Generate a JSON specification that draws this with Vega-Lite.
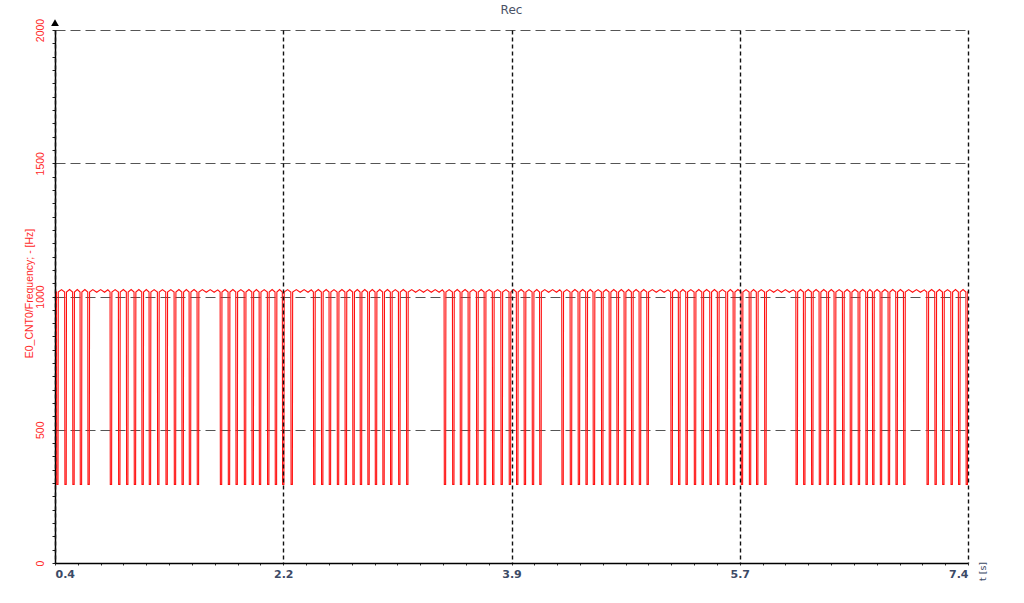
{
  "$schema": "https://vega.github.io/schema/vega-lite/v6.json",
  "width": 913,
  "height": 533,
  "autosize": {"type": "none"},
  "padding": {"left": 55, "top": 30, "right": 56, "bottom": 40},
  "background": "white",
  "title": {"text": "Rec", "fontSize": 12, "font": "DejaVu Sans", "fontWeight": "normal", "color": "#4a5266", "anchor": "middle", "offset": 1},
  "config": {"view": {"stroke": null}},
  "resolve": {"axis": {"x": "independent", "y": "independent"}},
  "layer": [
    {
      "data": {
        "values": "t,f\n0.4,1021\n0.411,1017\n0.413,295\n0.423,295\n0.425,1017\n0.45,1026\n0.474,1017\n0.476,295\n0.486,295\n0.488,1017\n0.512,1026\n0.535,1017\n0.537,295\n0.547,295\n0.549,1017\n0.571,1026\n0.592,1017\n0.594,295\n0.604,295\n0.606,1017\n0.629,1026\n0.651,1017\n0.653,295\n0.663,295\n0.665,1017\n0.69,1026\n0.72,1016\n0.75,1026\n0.78,1016\n0.805,1025\n0.822,1017\n0.824,295\n0.834,295\n0.836,1017\n0.861,1026\n0.886,1017\n0.888,295\n0.898,295\n0.9,1017\n0.924,1026\n0.947,1017\n0.949,295\n0.959,295\n0.961,1017\n0.984,1026\n1.006,1017\n1.008,295\n1.018,295\n1.02,1017\n1.043,1026\n1.065,1017\n1.067,295\n1.077,295\n1.079,1017\n1.1,1026\n1.121,1017\n1.123,295\n1.133,295\n1.135,1017\n1.16,1026\n1.185,1017\n1.187,295\n1.197,295\n1.199,1017\n1.224,1026\n1.249,1017\n1.251,295\n1.261,295\n1.263,1017\n1.288,1026\n1.313,1017\n1.315,295\n1.325,295\n1.327,1017\n1.35,1026\n1.372,1017\n1.374,295\n1.384,295\n1.386,1017\n1.407,1026\n1.428,1017\n1.43,295\n1.44,295\n1.442,1017\n1.466,1026\n1.489,1017\n1.491,295\n1.501,295\n1.503,1017\n1.53,1026\n1.56,1016\n1.59,1026\n1.62,1016\n1.648,1025\n1.666,1017\n1.668,295\n1.678,295\n1.68,1017\n1.704,1026\n1.727,1017\n1.729,295\n1.739,295\n1.741,1017\n1.764,1026\n1.786,1017\n1.788,295\n1.798,295\n1.8,1017\n1.825,1026\n1.85,1017\n1.852,295\n1.862,295\n1.864,1017\n1.887,1026\n1.909,1017\n1.911,295\n1.921,295\n1.923,1017\n1.944,1026\n1.965,1017\n1.967,295\n1.977,295\n1.979,1017\n2.004,1026\n2.028,1017\n2.03,295\n2.04,295\n2.042,1017\n2.065,1026\n2.087,1017\n2.089,295\n2.099,295\n2.101,1017\n2.122,1026\n2.143,1017\n2.145,295\n2.155,295\n2.157,1017\n2.183,1026\n2.208,1017\n2.21,295\n2.22,295\n2.222,1017\n2.25,1026\n2.28,1016\n2.31,1026\n2.34,1016\n2.365,1025\n2.381,1017\n2.383,295\n2.393,295\n2.395,1017\n2.419,1026\n2.442,1017\n2.444,295\n2.454,295\n2.456,1017\n2.479,1026\n2.501,1017\n2.503,295\n2.513,295\n2.515,1017\n2.539,1026\n2.563,1017\n2.565,295\n2.575,295\n2.577,1017\n2.6,1026\n2.623,1017\n2.625,295\n2.635,295\n2.637,1017\n2.66,1026\n2.682,1017\n2.684,295\n2.694,295\n2.696,1017\n2.718,1026\n2.739,1017\n2.741,295\n2.751,295\n2.753,1017\n2.775,1026\n2.797,1017\n2.799,295\n2.809,295\n2.811,1017\n2.833,1026\n2.854,1017\n2.856,295\n2.866,295\n2.868,1017\n2.89,1026\n2.912,1017\n2.914,295\n2.924,295\n2.926,1017\n2.949,1026\n2.971,1017\n2.973,295\n2.983,295\n2.985,1017\n3.009,1026\n3.033,1017\n3.035,295\n3.045,295\n3.047,1017\n3.07,1026\n3.094,1017\n3.096,295\n3.106,295\n3.108,1017\n3.135,1026\n3.165,1016\n3.195,1026\n3.225,1016\n3.255,1026\n3.285,1016\n3.315,1026\n3.345,1016\n3.37,1025\n3.383,1017\n3.385,295\n3.395,295\n3.397,1017\n3.422,1026\n3.447,1017\n3.449,295\n3.459,295\n3.461,1017\n3.484,1026\n3.506,1017\n3.508,295\n3.518,295\n3.52,1017\n3.544,1026\n3.567,1017\n3.569,295\n3.579,295\n3.581,1017\n3.606,1026\n3.631,1017\n3.633,295\n3.643,295\n3.645,1017\n3.668,1026\n3.69,1017\n3.692,295\n3.702,295\n3.704,1017\n3.729,1026\n3.753,1017\n3.755,295\n3.765,295\n3.767,1017\n3.793,1026\n3.818,1017\n3.82,295\n3.83,295\n3.832,1017\n3.857,1026\n3.881,1017\n3.883,295\n3.893,295\n3.895,1017\n3.916,1026\n3.937,1017\n3.939,295\n3.949,295\n3.951,1017\n3.974,1026\n3.996,1017\n3.998,295\n4.008,295\n4.01,1017\n4.034,1026\n4.058,1017\n4.06,295\n4.07,295\n4.072,1017\n4.094,1026\n4.115,1017\n4.117,295\n4.127,295\n4.129,1017\n4.155,1026\n4.185,1016\n4.215,1026\n4.245,1016\n4.27,1025\n4.285,1017\n4.287,295\n4.297,295\n4.299,1017\n4.324,1026\n4.349,1017\n4.351,295\n4.361,295\n4.363,1017\n4.386,1026\n4.41,1017\n4.412,295\n4.422,295\n4.424,1017\n4.446,1026\n4.469,1017\n4.471,295\n4.481,295\n4.483,1017\n4.504,1026\n4.525,1017\n4.527,295\n4.537,295\n4.539,1017\n4.564,1026\n4.589,1017\n4.591,295\n4.601,295\n4.603,1017\n4.625,1026\n4.648,1017\n4.65,295\n4.66,295\n4.662,1017\n4.684,1026\n4.707,1017\n4.709,295\n4.719,295\n4.721,1017\n4.742,1026\n4.763,1017\n4.765,295\n4.775,295\n4.777,1017\n4.798,1026\n4.819,1017\n4.821,295\n4.831,295\n4.833,1017\n4.855,1026\n4.878,1017\n4.88,295\n4.89,295\n4.892,1017\n4.914,1026\n4.937,1017\n4.939,295\n4.949,295\n4.951,1017\n4.98,1026\n5.01,1016\n5.04,1026\n5.07,1016\n5.1,1025\n5.121,1017\n5.123,295\n5.133,295\n5.135,1017\n5.157,1026\n5.179,1017\n5.181,295\n5.191,295\n5.193,1017\n5.214,1026\n5.236,1017\n5.238,295\n5.248,295\n5.25,1017\n5.275,1026\n5.3,1017\n5.302,295\n5.312,295\n5.314,1017\n5.336,1026\n5.359,1017\n5.361,295\n5.371,295\n5.373,1017\n5.396,1026\n5.42,1017\n5.422,295\n5.432,295\n5.434,1017\n5.456,1026\n5.478,1017\n5.48,295\n5.49,295\n5.492,1017\n5.517,1026\n5.543,1017\n5.545,295\n5.555,295\n5.557,1017\n5.578,1026\n5.599,1017\n5.601,295\n5.611,295\n5.613,1017\n5.636,1026\n5.66,1017\n5.662,295\n5.672,295\n5.674,1017\n5.698,1026\n5.722,1017\n5.724,295\n5.734,295\n5.736,1017\n5.756,1026\n5.777,1017\n5.779,295\n5.789,295\n5.791,1017\n5.815,1026\n5.84,1017\n5.842,295\n5.852,295\n5.854,1017\n5.88,1026\n5.91,1016\n5.94,1026\n5.97,1016\n6.0,1026\n6.03,1016\n6.06,1025\n6.08,1017\n6.082,295\n6.092,295\n6.094,1017\n6.116,1026\n6.138,1017\n6.14,295\n6.15,295\n6.152,1017\n6.175,1026\n6.199,1017\n6.201,295\n6.211,295\n6.213,1017\n6.235,1026\n6.258,1017\n6.26,295\n6.27,295\n6.272,1017\n6.294,1026\n6.317,1017\n6.319,295\n6.329,295\n6.331,1017\n6.352,1026\n6.373,1017\n6.375,295\n6.385,295\n6.387,1017\n6.412,1026\n6.437,1017\n6.439,295\n6.449,295\n6.451,1017\n6.473,1026\n6.496,1017\n6.498,295\n6.508,295\n6.51,1017\n6.533,1026\n6.557,1017\n6.559,295\n6.569,295\n6.571,1017\n6.593,1026\n6.616,1017\n6.618,295\n6.628,295\n6.63,1017\n6.648,1026\n6.667,1017\n6.669,295\n6.679,295\n6.681,1017\n6.703,1026\n6.726,1017\n6.728,295\n6.738,295\n6.74,1017\n6.763,1026\n6.787,1017\n6.789,295\n6.799,295\n6.801,1017\n6.823,1026\n6.846,1017\n6.848,295\n6.858,295\n6.86,1017\n6.882,1026\n6.905,1017\n6.907,295\n6.917,295\n6.919,1017\n6.945,1026\n6.975,1016\n7.005,1026\n7.035,1016\n7.065,1025\n7.084,1017\n7.086,295\n7.096,295\n7.098,1017\n7.121,1026\n7.145,1017\n7.147,295\n7.157,295\n7.159,1017\n7.181,1026\n7.204,1017\n7.206,295\n7.216,295\n7.218,1017\n7.243,1026\n7.268,1017\n7.27,295\n7.28,295\n7.282,1017\n7.304,1026\n7.326,1017\n7.328,295\n7.338,295\n7.34,1017\n7.362,1026\n7.384,1017\n7.386,295\n7.396,295\n7.398,1017\n7.4,1020",
        "format": {"type": "csv"}
      },
      "mark": {"type": "line", "color": "#ff1010", "strokeWidth": 1.1, "clip": true},
      "encoding": {
        "x": {
          "field": "t",
          "type": "quantitative",
          "scale": {"domain": [0.4, 7.4], "nice": false, "zero": false},
          "axis": {
            "values": [0.4, 0.575, 0.75, 0.925, 1.1, 1.275, 1.45, 1.625, 1.8, 1.975, 2.15, 2.325, 2.5, 2.675, 2.85, 3.025, 3.2, 3.375, 3.55, 3.725, 3.9, 4.075, 4.25, 4.425, 4.6, 4.775, 4.95, 5.125, 5.3, 5.475, 5.65, 5.825, 6.0, 6.175, 6.35, 6.525, 6.7, 6.875, 7.05, 7.225, 7.4],
            "labelExpr": "abs((datum.value - 0.4) / 1.75 - round((datum.value - 0.4) / 1.75)) < 0.01 ? format(round(datum.value * 10 + 0.001) / 10, '.1f') : ''",
            "labelFlush": true,
            "labelOverlap": false,
            "labelFont": "DejaVu Sans",
            "labelFontSize": 11,
            "labelFontWeight": "bold",
            "labelColor": "#3c4a66",
            "labelPadding": 3,
            "title": "t [s]",
            "titleAngle": 270,
            "titleX": 927,
            "titleY": 8,
            "titleAlign": "center",
            "titleBaseline": "middle",
            "titleFont": "DejaVu Sans",
            "titleFontSize": 9.5,
            "titleFontWeight": "normal",
            "titleColor": "#3c4a66",
            "domainColor": "#000000",
            "domainWidth": 1.5,
            "tickColor": "#333333",
            "tickSize": 2,
            "tickWidth": 1,
            "grid": true,
            "gridColor": "#111111",
            "gridDash": [4, 3],
            "gridWidth": 1.4,
            "gridOpacity": {"condition": {"test": "abs((datum.value - 0.4) / 1.75 - round((datum.value - 0.4) / 1.75)) < 0.01", "value": 1}, "value": 0},
            "zindex": 1
          }
        },
        "y": {
          "field": "f",
          "type": "quantitative",
          "scale": {"domain": [0, 2000], "nice": false},
          "axis": {
            "values": [0, 50, 100, 150, 200, 250, 300, 350, 400, 450, 500, 550, 600, 650, 700, 750, 800, 850, 900, 950, 1000, 1050, 1100, 1150, 1200, 1250, 1300, 1350, 1400, 1450, 1500, 1550, 1600, 1650, 1700, 1750, 1800, 1850, 1900, 1950, 2000],
            "labelExpr": "datum.value % 500 === 0 ? '' + datum.value : ''",
            "labelAngle": 270,
            "labelFlush": true,
            "labelOverlap": false,
            "labelFont": "Liberation Sans",
            "labelFontSize": 10.5,
            "labelColor": "#ff2a2a",
            "labelPadding": 7,
            "title": "E0_CNT0/Frequency; - [Hz]",
            "titleAngle": 270,
            "titleX": -26,
            "titleY": 263,
            "titleAlign": "center",
            "titleBaseline": "middle",
            "titleFont": "Liberation Sans",
            "titleFontSize": 10.5,
            "titleFontWeight": "normal",
            "titleColor": "#ff2a2a",
            "domainColor": "#000000",
            "domainWidth": 1.5,
            "tickColor": "#222222",
            "tickSize": 3,
            "tickWidth": 1,
            "grid": true,
            "gridColor": "#555555",
            "gridDash": [10, 5],
            "gridWidth": 1,
            "gridOpacity": {"condition": {"test": "datum.value % 500 === 0", "value": 1}, "value": 0}
          }
        },
        "order": {"value": null}
      }
    },
    {
      "data": {"values": [{}]},
      "mark": {"type": "point", "shape": "triangle-up", "filled": true, "color": "#000000", "size": 60, "opacity": 1},
      "encoding": {
        "x": {"datum": 0.4, "axis": null},
        "y": {"datum": 2028, "axis": null}
      }
    }
  ]
}
